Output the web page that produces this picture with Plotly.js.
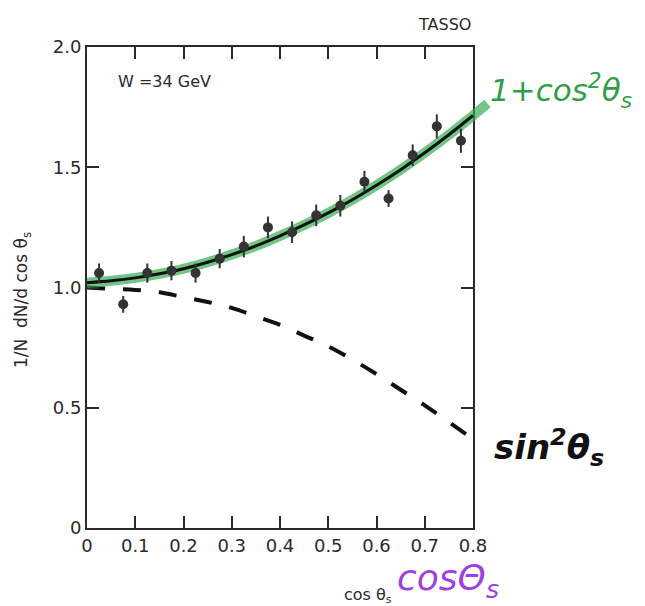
<!DOCTYPE html>
<html>
<head>
<meta charset="utf-8">
<script src="https://cdn.plot.ly/plotly-3.0.1.min.js"></script>
<style>html,body{margin:0;padding:0;background:#fff;}#chart{width:645px;height:606px;}</style>
</head>
<body>
<div id="chart"></div>
<script>
// measured data points
const cosTheta = [0.025,0.075,0.125,0.175,0.225,0.275,0.325,0.375,0.425,0.475,0.525,0.575,0.625,0.675,0.725,0.775];
const dist = [1.06,0.93,1.06,1.07,1.06,1.12,1.17,1.25,1.23,1.30,1.34,1.44,1.37,1.55,1.67,1.61];
const distErr = [0.04,0.035,0.04,0.04,0.04,0.04,0.045,0.045,0.045,0.045,0.045,0.045,0.035,0.045,0.05,0.05];
// curves
const curveX = [0,0.05,0.1,0.15,0.2,0.25,0.3,0.35,0.4,0.45,0.5,0.55,0.6,0.65,0.7,0.75,0.8];
const fitCos2 = [1.02,1.028,1.04,1.057,1.078,1.105,1.137,1.173,1.215,1.26,1.31,1.365,1.425,1.49,1.56,1.635,1.715];
const fitSin2 = [1.0,0.995,0.99,0.98,0.96,0.94,0.915,0.88,0.845,0.80,0.755,0.70,0.64,0.575,0.51,0.44,0.37];
// hand-drawn highlighter stroke (extends past the frame)
const markX = [0,0.05,0.1,0.15,0.2,0.25,0.3,0.35,0.4,0.45,0.5,0.55,0.6,0.65,0.7,0.75,0.8,0.83];
const markY = [1.02,1.028,1.04,1.057,1.078,1.105,1.137,1.173,1.215,1.26,1.31,1.365,1.425,1.49,1.56,1.635,1.715,1.765];
const xTicks = [0,0.1,0.2,0.3,0.4,0.5,0.6,0.7,0.8];
const xTickText = ['0','0.1','0.2','0.3','0.4','0.5','0.6','0.7','0.8'];
const yTicks = [0,0.5,1.0,1.5,2.0];
const yTickText = ['0','0.5','1.0','1.5','2.0'];

// frame geometry: main axes occupy part of a wider overlay area so the hand stroke can run past the frame
const W = 645, H = 606;
const mL = 87, mR = 100, mT = 30, mB = 78;
const areaW = W - mL - mR, areaH = H - mT - mB;
const frameW = 386, frameH = 481;
const fx = frameW / areaW, fy = frameH / areaH;
const xMax = 0.8, yMax = 2.0;
const px = p => (p - mL) / areaW;
const py = p => (H - mB - p) / areaH;

const ink = '#2a2a2a';
const traces = [
  {x: curveX, y: fitSin2, mode: 'lines', line: {color: '#111', width: 4, dash: '18px,18px', shape: 'spline'}},
  {x: markX, y: markY, xaxis: 'x2', yaxis: 'y2', mode: 'lines', line: {color: 'rgba(45,170,75,0.68)', width: 10, shape: 'spline'}, hoverinfo: 'skip'},
  {x: curveX, y: fitCos2, xaxis: 'x2', yaxis: 'y2', mode: 'lines', line: {color: '#111', width: 3, shape: 'spline'}},
  {x: cosTheta, y: dist, xaxis: 'x2', yaxis: 'y2', mode: 'markers', cliponaxis: false,
   marker: {color: '#333', size: 10},
   error_y: {type: 'data', array: distErr, color: '#333', thickness: 2, width: 0}}
];

const hidden = {showline: false, showticklabels: false, ticks: '', showgrid: false, zeroline: false, fixedrange: true};
const layout = {
  width: W, height: H,
  margin: {l: mL, r: mR, t: mT, b: mB},
  paper_bgcolor: '#fff', plot_bgcolor: 'rgba(0,0,0,0)',
  showlegend: false,
  font: {family: 'DejaVu Sans, sans-serif', color: ink, size: 17},
  xaxis: {domain: [0, fx], range: [0, xMax], tickvals: xTicks, ticktext: xTickText, ticks: 'inside', ticklen: 12, tickwidth: 2,
          tickcolor: ink, showline: true, linecolor: ink, linewidth: 2, mirror: 'ticks', showgrid: false, zeroline: false,
          tickfont: {size: 18}, anchor: 'y'},
  yaxis: {domain: [0, fy], range: [0, yMax], tickvals: yTicks, ticktext: yTickText, ticks: 'inside', ticklen: 12, tickwidth: 2,
          tickcolor: ink, showline: true, linecolor: ink, linewidth: 2, mirror: 'ticks', showgrid: false, zeroline: false,
          tickfont: {size: 18}, anchor: 'x'},
  xaxis2: Object.assign({domain: [0, 1], range: [0, xMax / fx], anchor: 'y2'}, hidden),
  yaxis2: Object.assign({domain: [0, 1], range: [0, yMax / fy], anchor: 'x2'}, hidden),
  annotations: [
    {text: 'TASSO', xref: 'paper', yref: 'paper', x: px(473), y: py(36), xanchor: 'right', yanchor: 'bottom', showarrow: false, font: {size: 16}},
    {text: 'W =34 GeV', xref: 'paper', yref: 'paper', x: px(116), y: py(82), xanchor: 'left', yanchor: 'middle', showarrow: false, font: {size: 16}},
    {text: '1/N  dN/d cos θ<sub>s</sub>', xref: 'paper', yref: 'paper', x: px(22), y: py(300), xanchor: 'center', yanchor: 'middle', textangle: -90, showarrow: false, font: {size: 17}},
    {text: 'cos θ<sub>s</sub>', xref: 'paper', yref: 'paper', x: px(368), y: py(595), xanchor: 'center', yanchor: 'middle', showarrow: false, font: {size: 16}},
    {text: '<i>1+cos<sup>2</sup>θ<sub>s</sub></i>', xref: 'paper', yref: 'paper', x: px(488), y: py(90), xanchor: 'left', yanchor: 'middle', showarrow: false, font: {size: 31, color: '#2f9e44', family: 'DejaVu Sans'}},
    {text: '<b><i>sin<sup>2</sup>θ<sub>s</sub></i></b>', xref: 'paper', yref: 'paper', x: px(492), y: py(447), xanchor: 'left', yanchor: 'middle', showarrow: false, font: {size: 34, color: '#111', family: 'DejaVu Sans'}},
    {text: '<i>cosΘ<sub>s</sub></i>', xref: 'paper', yref: 'paper', x: px(448), y: py(580), xanchor: 'center', yanchor: 'middle', showarrow: false, font: {size: 36, color: '#a040e0', family: 'DejaVu Sans'}}
  ]
};

Plotly.newPlot('chart', traces, layout, {displayModeBar: false, staticPlot: true});
</script>
</body>
</html>
